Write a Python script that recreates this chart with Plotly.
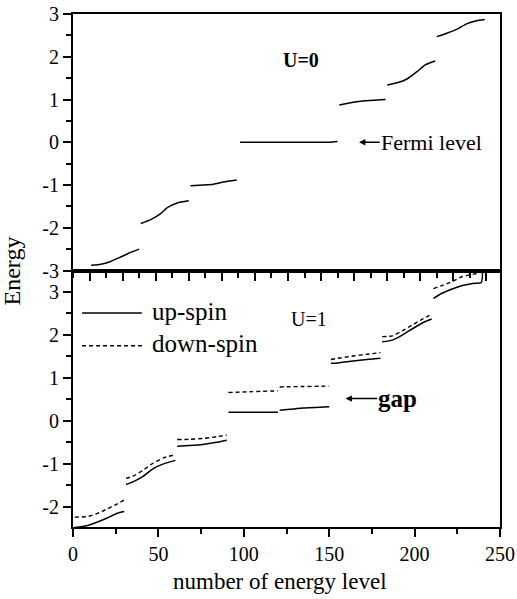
import plotly.graph_objects as go
from plotly.subplots import make_subplots

# ---------------- data ----------------
# U = 0 panel: level index segments and energies
u0_levels = [
    [1, 6, 12, 18, 24, 30],
    [31, 37, 43, 47, 53, 60],
    [61, 69, 75, 81, 89],
    [91, 120, 145, 150],
    [151, 157, 164, 172, 179],
    [180, 186, 192, 198, 203, 209],
    [210, 216, 222, 228, 234, 239],
]
u0_energy = [
    [-2.875, -2.86, -2.80, -2.70, -2.59, -2.50],
    [-1.90, -1.81, -1.67, -1.53, -1.42, -1.37],
    [-1.02, -1.00, -0.98, -0.93, -0.885],
    [0.0, 0.0, 0.0, 0.02],
    [0.87, 0.92, 0.96, 0.985, 1.00],
    [1.34, 1.39, 1.48, 1.65, 1.81, 1.90],
    [2.47, 2.55, 2.64, 2.77, 2.84, 2.87],
]

# U = 1 panel
u1_levels = [
    [1, 8, 14, 20, 26, 30],
    [31, 35, 41, 47, 53, 60],
    [61, 68, 76, 84, 90],
    [91, 105, 120],
    [121, 127, 135, 150],
    [151, 154, 164, 172, 180],
    [181, 187, 193, 199, 205, 210],
    [211, 216, 222, 228, 234, 239, 240],
]
up_energy = [
    [-2.48, -2.44, -2.36, -2.26, -2.15, -2.11],
    [-1.48, -1.42, -1.29, -1.11, -1.00, -0.92],
    [-0.59, -0.575, -0.55, -0.50, -0.45],
    [0.20, 0.20, 0.20],
    [0.25, 0.27, 0.30, 0.33],
    [1.34, 1.34, 1.395, 1.43, 1.46],
    [1.84, 1.88, 2.00, 2.15, 2.29, 2.37],
    [2.85, 2.97, 3.07, 3.15, 3.20, 3.22, 3.9],
]
down_energy = [
    [-2.24, -2.23, -2.16, -2.05, -1.93, -1.84],
    [-1.34, -1.29, -1.15, -0.98, -0.86, -0.785],
    [-0.435, -0.43, -0.41, -0.37, -0.33],
    [0.66, 0.68, 0.70],
    [0.79, 0.795, 0.80, 0.81],
    [1.43, 1.45, 1.51, 1.55, 1.59],
    [1.96, 1.98, 2.10, 2.24, 2.38, 2.48],
    [3.08, 3.15, 3.24, 3.36, 3.41, 3.46, 3.50],
]

top_y_ticks = [-3, -2, -1, 0, 1, 2, 3]
top_y_labels = ["-3", "-2", "-1", "0", "1", "2", "3"]
bot_y_ticks = [-2, -1, 0, 1, 2, 3]
bot_y_labels = ["-2", "-1", "0", "1", "2", "3"]
bot_x_ticks = [0, 50, 100, 150, 200, 250]
bot_x_labels = ["0", "50", "100", "150", "200", "250"]


def join(xs_list, ys_list):
    xs, ys = [], []
    for xs_seg, ys_seg in zip(xs_list, ys_list):
        xs += list(xs_seg) + [None]
        ys += list(ys_seg) + [None]
    return xs, ys


FONT = "Liberation Serif"

fig = make_subplots(rows=2, cols=1, vertical_spacing=0)

x0, y0 = join(u0_levels, u0_energy)
fig.add_trace(go.Scatter(x=x0, y=y0, mode="lines", connectgaps=False,
                         line=dict(color="black", width=1.5, shape="spline", smoothing=0.5),
                         showlegend=False), row=1, col=1)

xu, yu = join(u1_levels, up_energy)
fig.add_trace(go.Scatter(x=xu, y=yu, mode="lines", name="up-spin",
                         line=dict(color="black", width=1.5, shape="spline", smoothing=0.5),
                         showlegend=False), row=2, col=1)
xd, yd = join(u1_levels, down_energy)
fig.add_trace(go.Scatter(x=xd, y=yd, mode="lines", name="down-spin",
                         line=dict(color="black", width=1.4, dash="4px,3px",
                                   shape="spline", smoothing=0.5),
                         showlegend=False), row=2, col=1)

axis_common = dict(showline=True, linecolor="black", linewidth=2, mirror=True,
                   ticks="outside", tickcolor="black", tickwidth=2, ticklen=8,
                   showgrid=False, zeroline=False, automargin=False,
                   tickfont=dict(family=FONT, size=20, color="black"))

fig.update_xaxes(row=1, col=1, range=[-10, 248.2], tickmode="linear", tick0=0, dtick=20,
                 showticklabels=False,
                 minor=dict(ticks="outside", tickmode="linear", tick0=0, dtick=10,
                            ticklen=5, tickwidth=2, tickcolor="black", showgrid=False),
                 **axis_common)
fig.update_yaxes(row=1, col=1, range=[-3, 3], tickmode="array",
                 tickvals=top_y_ticks, ticktext=top_y_labels,
                 minor=dict(ticks="outside", tickvals=[-2.5, -1.5, -0.5, 0.5, 1.5, 2.5],
                            ticklen=5, tickwidth=2, tickcolor="black", showgrid=False),
                 **axis_common)
fig.update_xaxes(row=2, col=1, range=[0, 250], tickmode="array",
                 tickvals=bot_x_ticks, ticktext=bot_x_labels,
                 minor=dict(ticks="outside", tickvals=[25, 75, 125, 175, 225],
                            ticklen=5, tickwidth=2, tickcolor="black", showgrid=False),
                 **axis_common)
fig.update_yaxes(row=2, col=1, range=[-2.47, 3.5], tickmode="array",
                 tickvals=bot_y_ticks, ticktext=bot_y_labels,
                 minor=dict(ticks="outside", tickvals=[-1.5, -0.5, 0.5, 1.5, 2.5],
                            ticklen=5, tickwidth=2, tickcolor="black", showgrid=False),
                 **axis_common)

fig.update_layout(
    width=517, height=599,
    margin=dict(l=73, r=17, t=14, b=72, autoexpand=False),
    paper_bgcolor="white", plot_bgcolor="white",
    font=dict(family=FONT, color="black"),
    showlegend=False,
)
fig.layout.yaxis.domain = [0.5, 1.0]
fig.layout.yaxis2.domain = [0.0, 0.5]

# legend drawn as samples + text in the lower panel
fig.add_shape(type="line", xref="x2", yref="y2", x0=5.3, x1=40.3, y0=2.51, y1=2.51,
              line=dict(color="black", width=1.5))
fig.add_shape(type="line", xref="x2", yref="y2", x0=5.3, x1=40.3, y0=1.75, y1=1.75,
              line=dict(color="black", width=1.4, dash="4px,3px"))

annos = [
    dict(text="up-spin", xref="x2", yref="y2", x=45.2, y=2.55, xanchor="left",
         yanchor="middle", showarrow=False, font=dict(family=FONT, size=25)),
    dict(text="down-spin", xref="x2", yref="y2", x=45.2, y=1.79, xanchor="left",
         yanchor="middle", showarrow=False, font=dict(family=FONT, size=25)),
    dict(text="<b>U=0</b>", xref="x", yref="y", x=128, y=1.92, showarrow=False,
         font=dict(family=FONT, size=20)),
    dict(text="U=1", xref="x2", yref="y2", x=138, y=2.38, showarrow=False,
         font=dict(family=FONT, size=20)),
    dict(text="Fermi level", xref="x", yref="y", x=163, y=0.0, axref="x", ayref="y",
         ax=175.5, ay=0.0, xanchor="left", yanchor="middle", showarrow=True,
         arrowhead=2, arrowsize=0.9, arrowwidth=1.4, arrowcolor="black",
         borderpad=0, font=dict(family=FONT, size=22)),
    dict(text="<b>gap</b>", xref="x2", yref="y2", x=159.6, y=0.52, axref="x2", ayref="y2",
         ax=178, ay=0.52, xanchor="left", yanchor="middle", showarrow=True,
         arrowhead=2, arrowsize=0.9, arrowwidth=1.4, arrowcolor="black",
         borderpad=0, font=dict(family=FONT, size=25)),
    dict(text="Energy", xref="paper", yref="paper", x=-0.143, y=0.5, textangle=-90,
         showarrow=False, xanchor="center", yanchor="middle",
         font=dict(family=FONT, size=24)),
    dict(text="number of energy level", xref="paper", yref="paper", x=0.485, y=-0.107,
         showarrow=False, xanchor="center", yanchor="middle",
         font=dict(family=FONT, size=23)),
]
for a in annos:
    fig.add_annotation(**a)

fig.write_html("out.html", config={"displayModeBar": False},
               post_script="document.body.style.margin='0';document.body.style.overflow='hidden';")
